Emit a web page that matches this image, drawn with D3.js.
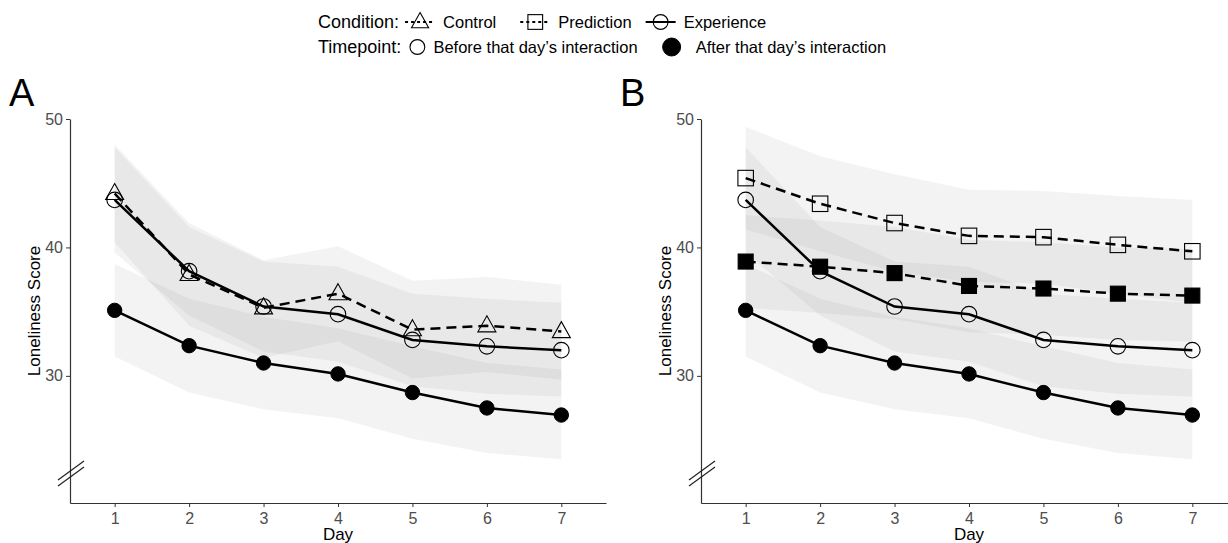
<!DOCTYPE html>
<html><head><meta charset="utf-8">
<script src="https://cdn.jsdelivr.net/npm/d3@7"></script>
<style>body{margin:0;background:#fff}svg{display:block}</style>
</head><body>
<svg id="chart" width="1228" height="543"></svg>
<script>
const days = [1, 2, 3, 4, 5, 6, 7];
const xTickLabels = ["1", "2", "3", "4", "5", "6", "7"];
const yTicks = [30, 40, 50];
// Control (panel A)
const ctrlMean = [44.2, 37.9, 35.3, 36.4, 33.6, 33.9, 33.45];
const ctrlLo   = [40.4, 33.9, 31.4, 32.7, 29.8, 30.3, 29.7];
const ctrlHi   = [48.0, 41.9, 39.0, 40.1, 37.4, 37.7, 37.1];
// Experience
const expBefore   = [43.7, 38.15, 35.4, 34.8, 32.8, 32.3, 32.0];
const expBeforeLo = [39.6, 34.7, 31.9, 31.1, 29.2, 28.6, 28.4];
const expBeforeHi = [47.8, 41.6, 38.9, 38.5, 36.4, 36.0, 35.7];
const expAfter    = [35.1, 32.35, 31.0, 30.15, 28.7, 27.5, 26.95];
const expAfterLo  = [31.5, 28.7, 27.4, 26.7, 25.1, 24.0, 23.5];
const expAfterHi  = [38.7, 36.0, 34.6, 33.7, 32.3, 31.0, 30.5];
// Prediction (panel B)
const predBefore   = [45.4, 43.4, 41.9, 40.9, 40.8, 40.2, 39.7];
const predBeforeLo = [41.4, 39.7, 38.1, 37.3, 37.2, 36.4, 35.7];
const predBeforeHi = [49.4, 47.1, 45.7, 44.5, 44.4, 44.0, 43.7];
const predAfter    = [38.9, 38.5, 38.0, 37.0, 36.8, 36.4, 36.25];
const predAfterLo  = [35.3, 34.9, 34.4, 33.4, 33.2, 32.8, 32.65];
const predAfterHi  = [42.5, 42.1, 41.6, 40.6, 40.4, 40.0, 39.85];

const conditionLabels = ["Control", "Prediction", "Experience"];
const timepointLabels = ["Before that day\u2019s interaction", "After that day\u2019s interaction"];

const svg = d3.select("#chart");
svg.append("rect").attr("width", 1228).attr("height", 543).attr("fill", "#fff");
const FONT = "'Liberation Sans', Arial, sans-serif";
const NARROW = "'Liberation Sans Narrow', 'Liberation Sans', Arial, sans-serif";

function drawShape(g, cx, cy, shape, filled, scale) {
  const k = scale || 1;
  const fill = filled ? "#000" : "none";
  if (shape === "circle") {
    g.append("circle").attr("cx", cx).attr("cy", cy).attr("r", (filled ? 7.2 : 7.8) * k)
      .attr("fill", fill).attr("stroke", "#000").attr("stroke-width", filled ? 1 : 1.1);
  } else if (shape === "square") {
    const s = (filled ? 15 : 15.5) * k;
    g.append("rect").attr("x", cx - s / 2).attr("y", cy - s / 2).attr("width", s).attr("height", s)
      .attr("fill", fill).attr("stroke", "#000").attr("stroke-width", 1.1);
  } else if (shape === "triangle") {
    const h = 16 * k, w = 18 * k;
    g.append("path").attr("d", `M${cx},${cy - h * 0.62}L${cx + w / 2},${cy + h * 0.38}L${cx - w / 2},${cy + h * 0.38}Z`)
      .attr("fill", fill).attr("stroke", "#000").attr("stroke-width", 1.1);
  }
}

function mk(mean, lo, hi, shape, filled, dashed) {
  return {pts: days.map((d, i) => ({day: d, m: mean[i], lo: lo[i], hi: hi[i]})), shape, filled, dashed};
}

function drawPanel(cfg) {
  const g = svg.append("g");
  const x = d3.scaleLinear().domain([0.4, 7.6]).range([cfg.x0, cfg.x1]);
  const y = d3.scaleLinear().domain([20.1, 50]).range([503, 119]);

  const area = d3.area().x(d => x(d.day)).y0(d => y(d.lo)).y1(d => y(d.hi));
  cfg.series.forEach(s => {
    g.append("path").datum(s.pts).attr("d", area)
      .attr("fill", "#9a9a9a").attr("fill-opacity", 0.12).attr("stroke", "none");
  });
  const line = d3.line().x(d => x(d.day)).y(d => y(d.m));
  cfg.series.forEach(s => {
    g.append("path").datum(s.pts).attr("d", line)
      .attr("fill", "none").attr("stroke", "#000").attr("stroke-width", 2.5)
      .attr("stroke-dasharray", s.dashed ? "10,6" : null);
  });
  cfg.series.forEach(s => {
    s.pts.forEach(p => drawShape(g, x(p.day), y(p.m), s.shape, s.filled));
  });

  const xAxis = d3.axisBottom(x).tickValues(days).tickFormat((d, i) => xTickLabels[i]).tickSize(4).tickSizeOuter(0);
  const gx = g.append("g").attr("transform", `translate(0,503)`).call(xAxis);
  gx.select(".domain").attr("stroke", "#333").attr("stroke-width", 1.2);
  gx.selectAll(".tick line").attr("stroke", "#333");
  gx.selectAll(".tick text").attr("fill", "#4d4d4d").attr("font-size", 16).attr("font-family", NARROW).attr("dy", "0.85em");

  const yAxis = d3.axisLeft(y).tickValues(yTicks).tickSize(4).tickSizeOuter(0);
  const gy = g.append("g").attr("transform", `translate(${cfg.x0},0)`).call(yAxis);
  gy.select(".domain").attr("stroke", "#333").attr("stroke-width", 1.2);
  gy.selectAll(".tick line").attr("stroke", "#333");
  gy.selectAll(".tick text").attr("fill", "#4d4d4d").attr("font-size", 16).attr("font-family", NARROW);

  [0, 6].forEach(off => {
    g.append("line").attr("x1", cfg.x0 - 12).attr("y1", 480 + off).attr("x2", cfg.x0 + 14).attr("y2", 461 + off)
      .attr("stroke", "#222").attr("stroke-width", 1.2);
  });

  g.append("text").attr("x", (cfg.x0 + cfg.x1) / 2).attr("y", 540).attr("text-anchor", "middle")
    .attr("font-family", FONT).attr("font-size", 17).attr("fill", "#000").text("Day");
  g.append("text").attr("transform", `translate(${cfg.x0 - 30},${(119 + 503) / 2}) rotate(-90)`)
    .attr("text-anchor", "middle").attr("font-family", FONT).attr("font-size", 17).attr("fill", "#000").text("Loneliness Score");
  g.append("text").attr("x", cfg.letterX).attr("y", 106).attr("font-family", FONT).attr("font-size", 38).attr("fill", "#000").text(cfg.letter);
}

drawPanel({x0: 70, x1: 606, letter: "A", letterX: 9, series: [
  mk(ctrlMean, ctrlLo, ctrlHi, "triangle", false, true),
  mk(expBefore, expBeforeLo, expBeforeHi, "circle", false, false),
  mk(expAfter, expAfterLo, expAfterHi, "circle", true, false)
]});
drawPanel({x0: 701, x1: 1237, letter: "B", letterX: 620, series: [
  mk(predBefore, predBeforeLo, predBeforeHi, "square", false, true),
  mk(predAfter, predAfterLo, predAfterHi, "square", true, true),
  mk(expBefore, expBeforeLo, expBeforeHi, "circle", false, false),
  mk(expAfter, expAfterLo, expAfterHi, "circle", true, false)
]});

// legend
const lg = svg.append("g");
function legendRow(y, title, items) {
  let cx = 318;
  const t = lg.append("text").attr("x", cx).attr("y", y).attr("dy", "0.35em").attr("font-family", FONT)
    .attr("font-size", 18).attr("fill", "#000").text(title);
  cx += t.node().getComputedTextLength() + 6;
  items.forEach(it => {
    cx = it.key(cx, y);
    const tt = lg.append("text").attr("x", cx).attr("y", y).attr("dy", "0.35em").attr("font-family", FONT)
      .attr("font-size", 16.5).attr("fill", "#000").text(it.label);
    cx += tt.node().getComputedTextLength() + it.gap;
  });
}
function lineKey(shape, dashed) {
  return (cx, y) => {
    lg.append("line").attr("x1", cx).attr("x2", cx + 30).attr("y1", y).attr("y2", y)
      .attr("stroke", "#000").attr("stroke-width", 2).attr("stroke-dasharray", dashed ? "3,3" : null);
    drawShape(lg, cx + 15, y, shape, false, 0.95);
    return cx + 38;
  };
}
function pointKey(filled) {
  return (cx, y) => {
    drawShape(lg, cx + 10, y, "circle", filled, filled ? 1.25 : 0.95);
    return cx + (filled ? 34 : 26);
  };
}
legendRow(22, "Condition:", [
  {key: lineKey("triangle", true), label: conditionLabels[0], gap: 24},
  {key: lineKey("square", true), label: conditionLabels[1], gap: 14},
  {key: lineKey("circle", false), label: conditionLabels[2], gap: 0}
]);
legendRow(47, "Timepoint:", [
  {key: pointKey(false), label: timepointLabels[0], gap: 24},
  {key: pointKey(true), label: timepointLabels[1], gap: 0}
]);
</script>
</body></html>
